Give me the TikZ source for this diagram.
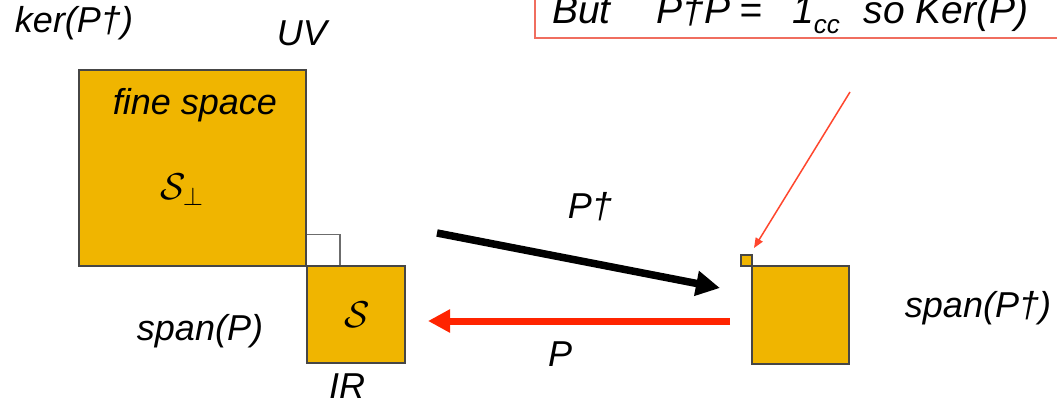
\documentclass[tikz,border=0pt]{standalone}
\usepackage{fontspec}
\setmainfont{Liberation Sans}
\usetikzlibrary{arrows.meta}
\definecolor{gold}{RGB}{240,181,0}
\definecolor{edge}{RGB}{70,70,70}
\definecolor{redarrow}{RGB}{255,36,0}
\definecolor{thinred}{RGB}{255,70,45}
\definecolor{boxred}{RGB}{240,110,95}
\tikzset{
  lbl/.style={font=\fontsize{36}{40}\selectfont\itshape, inner sep=0pt, anchor=base},
  sym/.style={font=\fontsize{24}{28}\selectfont, inner sep=0pt},
  space/.style={draw=edge, fill=gold, line width=1.3pt, inner sep=0pt},
}
\begin{document}
\begin{tikzpicture}[x=1pt,y=-1pt]
\useasboundingbox (0,0) rectangle (1057,401);

% statement box at the top
\node[draw=boxred, line width=1.4pt, minimum width=540, minimum height=60, inner sep=0pt] (note) at (805,8) {};
\node[lbl, anchor=base west, font=\fontsize{39}{42}\selectfont\itshape] (notetext) at (552,24)
  {But\hspace{46pt}P\textdagger P\hspace{9pt}=\hspace{30pt}1\raisebox{-10pt}{\fontsize{26}{28}\selectfont cc}\hspace{24pt}so Ker(P)};

% subspaces
\node[space, minimum width=227, minimum height=196] (fine) at (192.5,168) {};
\node[space, minimum width=98, minimum height=97] (S) at (356,314.5) {};
\node[space, minimum width=97, minimum height=98] (image) at (800.5,315) {};
\node[space, line width=1.1pt, minimum width=11, minimum height=11] (ker) at (746.5,260.5) {};

% right-angle mark between the two spaces
\draw[draw=gray!85!black, line width=1.3pt] (fine.south east) ++(0,-32) -| (S.north west -| 340,0);

% labels
\node[lbl] (lker) at (74,33) {ker(P\textdagger)};
\node[lbl] (luv) at (302,46) {UV};
\node[lbl] (lfine) at (195,115) {fine space};
\node[sym] (lsperp) at (182,190) {\scalebox{1.5}{$\mathcal{S}_\perp$}};
\node[sym] (ls) at (357,315) {\scalebox{1.5}{$\mathcal{S}$}};
\node[lbl] (lspan) at (200,340) {span(P)};
\node[lbl] (lir) at (347,398) {IR};
\node[lbl] (lspand) at (978,317) {span(P\textdagger)};
\node[lbl] (lpd) at (590,218) {P\textdagger};
\node[lbl] (lp) at (560,366) {P};

% maps between the spaces
\coordinate (pdfrom) at (437,233);
\coordinate (pdto) at (720,288);
\coordinate (pfrom) at (730,321);
\coordinate (pto) at (428,321);
\coordinate (notefoot) at (850,92);
\coordinate (kertip) at (754,248);
\draw[line width=7.5pt, -{Triangle[length=24pt,width=24pt]}] (pdfrom) -- (pdto);
\draw[redarrow, line width=7pt, -{Triangle[length=22pt,width=22pt]}] (pfrom) -- (pto);
\draw[thinred, line width=1.5pt, -{Triangle[length=10pt,width=8pt]}] (notefoot) -- (kertip);
\end{tikzpicture}
\end{document}
